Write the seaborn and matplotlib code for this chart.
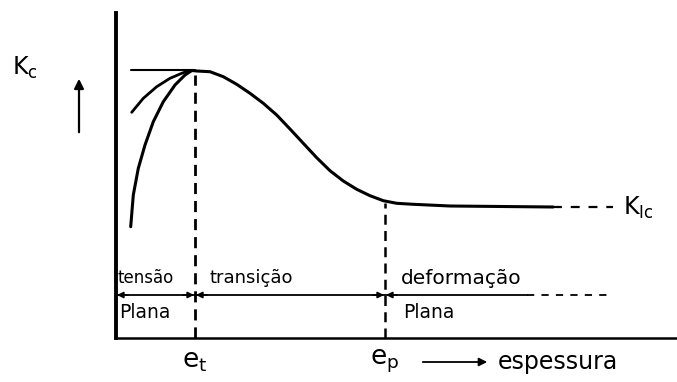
import matplotlib
matplotlib.use("Agg")
import matplotlib.pyplot as plt
import seaborn as sns
import pandas as pd

sns.set_theme(style="white")
plt.rcParams["font.family"] = ["DejaVu Sans"]

# thickness (arbitrary units) and toughness Kc (arbitrary units)
main_x = [7.6, 8.07, 9.4, 10.73, 12.07, 13.4, 14.73, 16.07, 17.4, 18.73, 20.07,
          21.4, 22.73, 24.07, 25.4, 26.73, 28.07, 29.73, 33.4, 43.7]
main_k = [26.75, 26.7, 26.63, 26.13, 25.37, 24.47, 23.47, 22.3, 20.9, 19.47, 18.03,
          16.73, 15.7, 14.87, 14.23, 13.73, 13.47, 13.37, 13.2, 13.1]
steep_x = [1.47, 1.73, 2.23, 2.9, 3.73, 4.73, 5.9, 6.9, 7.4, 7.6]
steep_k = [11.13, 14.3, 16.97, 19.3, 21.63, 23.63, 25.3, 26.3, 26.63, 26.75]
gentle_x = [1.57, 2.73, 4.07, 5.4, 6.57, 7.23, 7.6]
gentle_k = [22.57, 23.97, 25.13, 25.97, 26.47, 26.7, 26.75]
kic_tail_x = [43.7, 49.7]
k_peak = 26.8
k_ic = 13.1
e_t = 7.9
e_p = 26.9
band_k = 4.3
band_end = 41.1
band_tail_end = 49.4

region_top = ["tensão", "transição", "deformação"]
region_top_x = [0.2, 9.4, 28.5]
region_top_size = [12, 13, 14.5]
region_bot = ["Plana", "Plana"]
region_bot_x = [0.3, 28.7]

fig = plt.figure(figsize=(6.77, 3.82), dpi=100)
ax = fig.add_axes([116 / 677, 44 / 382, 561 / 677, 325 / 382])
ax.set_xlim(0, 56.1)
ax.set_ylim(0, 32.5)
ax.set_xticks([])
ax.set_yticks([])
for side in ["top", "right"]:
    ax.spines[side].set_visible(False)
ax.spines["left"].set_linewidth(2.8)
ax.spines["bottom"].set_linewidth(1.8)
ax.spines["left"].set_color("black")
ax.spines["bottom"].set_color("black")

ink = "black"
curves = pd.DataFrame({"x": main_x, "k": main_k})
sns.lineplot(data=curves, x="x", y="k", ax=ax, color=ink, lw=2.2, sort=False)
sns.lineplot(x=steep_x, y=steep_k, ax=ax, color=ink, lw=2.2, sort=False)
sns.lineplot(x=gentle_x, y=gentle_k, ax=ax, color=ink, lw=2.0, sort=False)
ax.plot([steep_x[0], e_t], [k_peak, k_peak], color=ink, lw=1.5)
ax.plot(kic_tail_x, [k_ic, k_ic], color=ink, lw=1.6, ls=(0, (4, 4)))

# boundaries
ax.plot([e_t, e_t], [0, k_peak - 0.5], color=ink, lw=2.0, ls=(0, (4, 2.5)))
ax.plot([e_p, e_p], [0, k_ic + 0.4], color=ink, lw=1.8, ls=(0, (4, 2.5)))

# regime band
ax.plot([0, band_end], [band_k, band_k], color=ink, lw=1.3)
ax.plot([band_end, band_tail_end], [band_k, band_k], color=ink, lw=1.3, ls=(0, (4, 4)))
arrow = dict(arrowstyle="-|>", color=ink, lw=1.2, mutation_scale=9, shrinkA=0, shrinkB=0)
for x0, x1 in [(1.2, 0.1), (e_t - 1.2, e_t - 0.1), (e_t + 1.2, e_t + 0.1),
               (e_p - 1.2, e_p - 0.1), (e_p + 1.2, e_p + 0.1)]:
    ax.annotate("", xy=(x1, band_k), xytext=(x0, band_k), arrowprops=arrow)

for label, x, fs in zip(region_top, region_top_x, region_top_size):
    ax.text(x, 6.0, label, fontsize=fs, va="center", ha="left", color=ink)
for label, x in zip(region_bot, region_bot_x):
    ax.text(x, 2.6, label, fontsize=13.5, va="center", ha="left", color=ink)

# axis labels
ax.text(-10.4, 27.0, r"$\mathregular{K_c}$", fontsize=17, va="center", ha="left",
        color=ink, clip_on=False)
ax.annotate("", xy=(-3.7, 26.2), xytext=(-3.7, 20.3), annotation_clip=False,
            arrowprops=dict(arrowstyle="-|>", color=ink, lw=1.6, mutation_scale=14))
ax.text(50.7, 13.0, r"$\mathregular{K_{Ic}}$", fontsize=17, va="center", ha="left",
        color=ink, clip_on=False)
ax.text(e_t, -2.3, r"$\mathregular{e_t}$", fontsize=19, va="center", ha="center",
        color=ink, clip_on=False)
ax.text(e_p, -2.3, r"$\mathregular{e_p}$", fontsize=19, va="center", ha="center",
        color=ink, clip_on=False)
ax.annotate("", xy=(37.4, -2.4), xytext=(30.4, -2.4), annotation_clip=False,
            arrowprops=dict(arrowstyle="-|>", color=ink, lw=1.3, mutation_scale=12))
ax.text(38.2, -2.4, "espessura", fontsize=17, va="center", ha="left",
        color=ink, clip_on=False)

fig.savefig("out.png", dpi=100)
